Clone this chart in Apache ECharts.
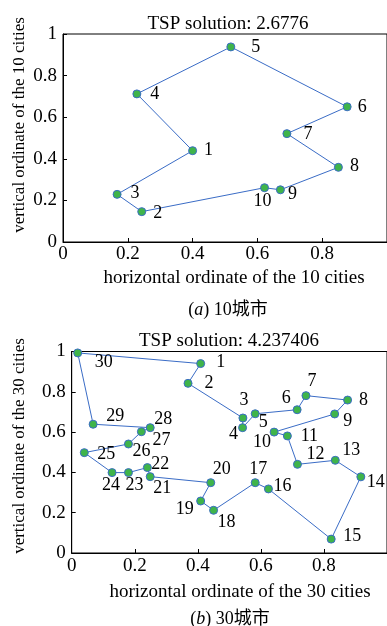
<!DOCTYPE html>
<html>
<head>
<meta charset="utf-8">
<script src="https://cdn.jsdelivr.net/npm/echarts@6/dist/echarts.min.js"></script>
<style>
html,body{margin:0;padding:0;background:#fff;}
#chart{width:387px;height:626px;}
</style>
</head>
<body>
<div id="chart"></div>
<script>
// ---- Data: 10-city problem ----
const title10 = 'TSP solution: 2.6776';
const cityLabels10 = ['1','2','3','4','5','6','7','8','9','10'];
const cityX10 = [0.400, 0.243, 0.167, 0.228, 0.518, 0.877, 0.691, 0.850, 0.671, 0.622];
const cityY10 = [0.439, 0.146, 0.229, 0.712, 0.938, 0.650, 0.521, 0.359, 0.251, 0.261];
const tour10 = [1, 3, 2, 10, 9, 8, 7, 6, 5, 4, 1];

// ---- Data: 30-city problem ----
const title30 = 'TSP solution: 4.237406';
const cityLabels30 = ['1','2','3','4','5','6','7','8','9','10','11','12','13','14','15',
  '16','17','18','19','20','21','22','23','24','25','26','27','28','29','30'];
const cityX30 = [0.409, 0.369, 0.543, 0.542, 0.582, 0.715, 0.743, 0.875, 0.834, 0.642,
  0.684, 0.716, 0.836, 0.917, 0.823, 0.624, 0.582, 0.450, 0.409, 0.441,
  0.249, 0.240, 0.180, 0.128, 0.040, 0.180, 0.221, 0.249, 0.068, 0.019];
const cityY30 = [0.940, 0.842, 0.670, 0.622, 0.691, 0.711, 0.781, 0.759, 0.690, 0.600,
  0.581, 0.440, 0.460, 0.378, 0.069, 0.318, 0.349, 0.212, 0.258, 0.349,
  0.379, 0.424, 0.399, 0.399, 0.498, 0.541, 0.602, 0.622, 0.639, 0.993];
const tour30 = [1,2,3,4,5,6,7,8,9,10,11,12,13,14,15,16,17,18,19,20,21,22,23,24,25,26,27,28,29,30,1];

// ---- Axis texts ----
const xName10 = 'horizontal ordinate of the 10 cities';
const yName10 = 'vertical ordinate of the 10 cities';
const xName30 = 'horizontal ordinate of the 30 cities';
const yName30 = 'vertical ordinate of the 30 cities';
const caption10 = ['a', ' 10城市'];
const caption30 = ['b', ' 30城市'];

// ---- Style: label offsets (pixels) ----
const labelOffset10 = [[16,0],[16,2],[18,-1],[18,0],[25,0],[15,0],[21,1],[16,-1],[12,4],[-2,14]];
const labelOffset30 = [[20,-1],[21,0],[1,-18],[-9,7],[8,9],[-11,-11],[6,-14],[16,0],[13,7],[-12,10],
  [22,0],[18,-10],[16,-10],[15,5],[21,-3],[14,-3],[3,-13],[13,12],[-16,8],[11,-13],
  [12,12],[13,-3],[6,13],[-1,13],[22,2],[13,7],[20,9],[13,-8],[22,-8],[26,9]];

const FONT = "'Liberation Serif', 'Times New Roman', 'Noto Sans CJK SC', serif";
const LINE = '#3a6cc6';
const FILL = '#3fb44a';

function axisCommon(idx, min, max) {
  return {
    gridIndex: idx, type: 'value', min: min, max: max, interval: 0.2,
    axisLine: {show: true, onZero: false, lineStyle: {color: '#000', width: 1}},
    axisTick: {show: true, inside: true, length: 4, lineStyle: {color: '#000'}},
    splitLine: {show: false},
    axisLabel: {color: '#000', fontFamily: FONT, fontSize: 19}
  };
}

function pathData(xs, ys, tour) {
  return tour.map(c => [xs[c-1], ys[c-1]]);
}
function cityData(xs, ys, labels, offs) {
  return xs.map((x, i) => ({
    value: [x, ys[i]],
    label: {formatter: labels[i], offset: offs[i]}
  }));
}

const g1 = {left: 63, top: 34, width: 325, height: 208};
const g2 = {left: 71.7, top: 351.5, width: 316.7, height: 201.5};

const option = {
  animation: false,
  backgroundColor: '#fff',
  textStyle: {fontFamily: FONT},
  title: [
    {text: title10, left: 223, top: 10, textAlign: 'center',
     textStyle: {fontFamily: FONT, fontSize: 19, fontWeight: 'normal', color: '#000'}},
    {text: xName10, left: 229, top: 264, textAlign: 'center',
     textStyle: {fontFamily: FONT, fontSize: 19, fontWeight: 'normal', color: '#000'}},
    {text: '(' + '{i|' + caption10[0] + '})' + caption10[1], left: 223, top: 296, textAlign: 'center',
     textStyle: {fontFamily: FONT, fontSize: 18, fontWeight: 'normal', color: '#000',
       rich: {i: {fontFamily: FONT, fontSize: 18, fontStyle: 'italic', color: '#000'}}}},
    {text: title30, left: 224, top: 327, textAlign: 'center',
     textStyle: {fontFamily: FONT, fontSize: 19, fontWeight: 'normal', color: '#000'}},
    {text: xName30, left: 235, top: 578, textAlign: 'center',
     textStyle: {fontFamily: FONT, fontSize: 19, fontWeight: 'normal', color: '#000'}},
    {text: '(' + '{i|' + caption30[0] + '})' + caption30[1], left: 225, top: 605, textAlign: 'center',
     textStyle: {fontFamily: FONT, fontSize: 18, fontWeight: 'normal', color: '#000',
       rich: {i: {fontFamily: FONT, fontSize: 18, fontStyle: 'italic', color: '#000'}}}}
  ],
  graphic: [
    {type: 'text', x: 20, y: 125, rotation: Math.PI / 2,
     style: {text: yName10, font: '17px ' + FONT, fill: '#000', align: 'center', verticalAlign: 'middle'}},
    {type: 'text', x: 20, y: 446, rotation: Math.PI / 2,
     style: {text: yName30, font: '17px ' + FONT, fill: '#000', align: 'center', verticalAlign: 'middle'}}
  ],
  grid: [
    Object.assign({show: true, borderColor: '#000', borderWidth: 1, backgroundColor: 'transparent'}, g1),
    Object.assign({show: true, borderColor: '#000', borderWidth: 1, backgroundColor: 'transparent'}, g2)
  ],
  xAxis: [
    Object.assign(axisCommon(0, 0, 1), {axisLabel: {color: '#000', fontFamily: FONT, fontSize: 19, margin: 3, showMaxLabel: false}}),
    Object.assign(axisCommon(1, 0, 1), {axisLabel: {color: '#000', fontFamily: FONT, fontSize: 19, margin: 4, showMaxLabel: false}})
  ],
  yAxis: [
    Object.assign(axisCommon(0, 0, 1), {axisLabel: {color: '#000', fontFamily: FONT, fontSize: 19, margin: 6}}),
    Object.assign(axisCommon(1, 0, 1), {axisLabel: {color: '#000', fontFamily: FONT, fontSize: 19, margin: 6}})
  ],
  series: [
    {type: 'line', xAxisIndex: 0, yAxisIndex: 0, data: pathData(cityX10, cityY10, tour10),
     showSymbol: false, lineStyle: {color: LINE, width: 1}, silent: true, z: 2},
    {type: 'scatter', xAxisIndex: 0, yAxisIndex: 0, data: cityData(cityX10, cityY10, cityLabels10, labelOffset10),
     symbolSize: 8, itemStyle: {color: FILL, borderColor: LINE, borderWidth: 1, opacity: 1},
     label: {show: true, position: 'inside', align: 'center', verticalAlign: 'middle',
       fontFamily: FONT, fontSize: 18, color: '#000'}, z: 3},
    {type: 'line', xAxisIndex: 1, yAxisIndex: 1, data: pathData(cityX30, cityY30, tour30),
     showSymbol: false, lineStyle: {color: LINE, width: 1}, silent: true, z: 2},
    {type: 'scatter', xAxisIndex: 1, yAxisIndex: 1, data: cityData(cityX30, cityY30, cityLabels30, labelOffset30),
     symbolSize: 8, itemStyle: {color: FILL, borderColor: LINE, borderWidth: 1, opacity: 1},
     label: {show: true, position: 'inside', align: 'center', verticalAlign: 'middle',
       fontFamily: FONT, fontSize: 18, color: '#000'}, z: 3}
  ]
};

const chart = echarts.init(document.getElementById('chart'), null, {renderer: 'canvas'});
chart.setOption(option);
</script>
</body>
</html>
